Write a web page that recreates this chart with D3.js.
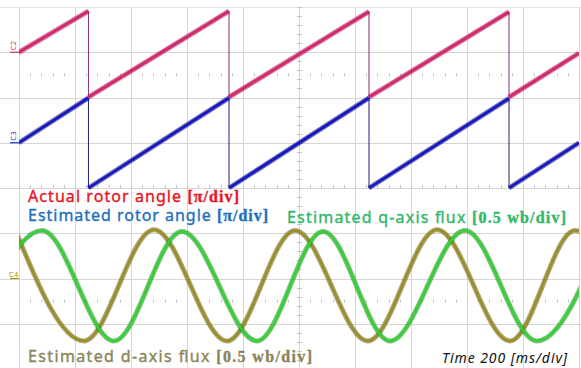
<!DOCTYPE html>
<html>
<head>
<meta charset="utf-8">
<script src="https://cdn.jsdelivr.net/npm/d3@7"></script>
<style>
  body { margin: 0; background: #fff; }
  svg { display: block; }
</style>
</head>
<body>
<script>
// scope settings: 200 ms/div, 10 divisions across, 8 divisions down
const timeTicks = [0, 200, 400, 600, 800, 1000, 1200, 1400, 1600, 1800, 2000];
const divTicks = [0, 1, 2, 3, 4, 5, 6, 7, 8];

// actual rotor angle [pi] (C2, ground at div 7)
const actualT = [0, 248, 248, 750, 750, 1250, 1250, 1750, 1750, 2000];
const actualV = [0.0, 0.91, -0.99, 0.91, -0.99, 0.9, -0.99, 0.89, -0.99, -0.02];

// estimated rotor angle [pi] (C3, ground at div 5)
const estT = [0, 248, 248, 750, 750, 1250, 1250, 1750, 1750, 2000];
const estV = [0.0, 0.99, -1.0, 0.99, -1.0, 0.99, -1.0, 0.98, -1.0, 0.0];

// estimated d-axis flux [wb] (C4, ground at div 2), read at peaks and troughs
const dFluxT = [-14, 232, 482, 743, 986, 1246, 1493, 1754, 1986, 2240];
const dFluxV = [0.54, -0.69, 0.54, -0.69, 0.53, -0.69, 0.54, -0.69, 0.53, -0.69];

// estimated q-axis flux [wb] (C4, ground at div 2)
const qFluxT = [-168, 82, 339, 582, 850, 1086, 1325, 1593, 1850, 2093];
const qFluxV = [-0.69, 0.53, -0.69, 0.52, -0.69, 0.52, -0.69, 0.53, -0.69, 0.52];

const labels = [
  "Actual rotor angle ", "[π/div]",
  "Estimated rotor angle ", "[π/div]",
  "Estimated  q-axis  flux ", "[0.5 wb/div]",
  "Estimated  d-axis  flux ", "[0.5 wb/div]"
];
const timeLabel = "Time 200 [ms/div]";

const W = 581, H = 368;
const svg = d3.select("body").append("svg").attr("width", W).attr("height", H);

const x = d3.scaleLinear().domain([0, 2000]).range([19, 579]);
const y = d3.scaleLinear().domain([0, 8]).range([369, 7]);

svg.append("clipPath").attr("id", "plot")
  .append("rect").attr("x", 19).attr("y", 7).attr("width", 560).attr("height", 362);

// grid
const grid = svg.append("g").attr("stroke", "#d6d6d6").attr("stroke-width", 1);
grid.selectAll(".v").data(timeTicks).enter().append("line")
  .attr("x1", d => Math.round(x(d)) + 0.5).attr("x2", d => Math.round(x(d)) + 0.5)
  .attr("y1", y(8)).attr("y2", H);
grid.selectAll(".h").data(divTicks).enter().append("line")
  .attr("x1", 0).attr("x2", W)
  .attr("y1", d => Math.round(y(d)) + 0.5).attr("y2", d => Math.round(y(d)) + 0.5)
  .attr("stroke", d => d === 8 ? "#e4e4e4" : "#d6d6d6");

// minor ticks: dotted rows, centre column, lower edge of the upper screen
const minor = svg.append("g").attr("stroke", "#c4c4c4").attr("stroke-width", 1);
[6.5, 1.5].forEach(dv => {
  minor.selectAll(null).data(d3.range(0, 2001, 40)).enter().append("line")
    .attr("x1", d => Math.round(x(d)) + 0.5).attr("x2", d => Math.round(x(d)) + 0.5)
    .attr("y1", y(dv) - 1.5).attr("y2", y(dv) + 1.5);
});
minor.selectAll(null).data(d3.range(0, 8.01, 0.2)).enter().append("line")
  .attr("x1", x(1000) - 2).attr("x2", x(1000) + 3)
  .attr("y1", d => Math.round(y(d)) + 0.5).attr("y2", d => Math.round(y(d)) + 0.5);
minor.selectAll(null).data(d3.range(0, 2001, 40)).enter().append("line")
  .attr("x1", d => Math.round(x(d)) + 0.5).attr("x2", d => Math.round(x(d)) + 0.5)
  .attr("y1", y(4) - 3).attr("y2", y(4));

// channel markers
const markers = [
  { name: "C2", div: 7, color: "#d6246e", rot: true },
  { name: "C3", div: 5, color: "#2233cc", rot: true },
  { name: "C4", div: 2, color: "#a99a10", rot: false }
];
markers.forEach(m => {
  svg.append("line").attr("x1", 10).attr("x2", 19)
    .attr("y1", y(m.div)).attr("y2", y(m.div))
    .attr("stroke", m.color).attr("stroke-width", 1.2);
  svg.append("text")
    .attr("transform", m.rot ? `translate(16,${y(m.div) - 2}) rotate(-90)` : `translate(9,${y(m.div) - 2})`)
    .attr("font-family", "DejaVu Sans").attr("font-size", 7).attr("fill", m.color)
    .text(m.name);
});

const plot = svg.append("g").attr("clip-path", "url(#plot)");

function drawTrace(ts, vs, ground, perDiv, band, core, thin, curve) {
  const pts = ts.map((t, i) => [t, ground + vs[i] / perDiv]);
  const line = d3.line().x(d => x(d[0])).y(d => y(d[1])).curve(curve);
  // split at vertical resets so the thick band only follows the ramps
  const pieces = [];
  let cur = [pts[0]];
  for (let i = 1; i < pts.length; i++) {
    if (pts[i][0] === pts[i - 1][0]) { pieces.push(cur); cur = [pts[i]]; }
    else cur.push(pts[i]);
  }
  pieces.push(cur);
  plot.append("path").attr("d", line(pts)).attr("fill", "none")
    .attr("stroke", thin).attr("stroke-width", 1);
  pieces.forEach(p => {
    plot.append("path").attr("d", line(p)).attr("fill", "none")
      .attr("stroke", band).attr("stroke-width", 5).attr("stroke-opacity", 0.55);
    plot.append("path").attr("d", line(p)).attr("fill", "none")
      .attr("stroke", core).attr("stroke-width", 2.6);
  });
}

drawTrace(dFluxT, dFluxV, 2, 0.5, "#6e6512", "#9a8e2a", "#6e6512", d3.curveMonotoneX);
drawTrace(qFluxT, qFluxV, 2, 0.5, "#1c8c1c", "#35d035", "#1c8c1c", d3.curveMonotoneX);
drawTrace(actualT, actualV, 7, 1, "#a8104c", "#d6246e", "#8a2a6a", d3.curveLinear);
drawTrace(estT, estV, 5, 1, "#0a0a70", "#1414c8", "#20207a", d3.curveLinear);

// labels
const font = "'Noto Sans', 'DejaVu Sans', sans-serif";
const serif = "'Liberation Serif', 'DejaVu Serif', serif";
const labelSpec = [
  { x: 28, y: 202, len: 211, color: "#e8141e" },
  { x: 28, y: 221, len: 240, color: "#1e6ec0" },
  { x: 287, y: 223, len: 279, color: "#2fb86a" },
  { x: 28, y: 362, len: 284, color: "#8a8458" }
];
labelSpec.forEach((s, i) => {
  const t = svg.append("text").attr("x", s.x).attr("y", s.y)
    .attr("fill", s.color).attr("font-size", 16)
    .attr("stroke", s.color).attr("stroke-width", 0.35)
    .attr("textLength", s.len).attr("lengthAdjust", "spacing");
  t.append("tspan").attr("font-family", font).text(labels[i * 2]);
  t.append("tspan").attr("font-family", serif).attr("font-weight", "bold").text(labels[i * 2 + 1]);
});

svg.append("text").attr("x", 442).attr("y", 363)
  .attr("font-family", font).attr("font-style", "italic").attr("font-size", 14)
  .attr("fill", "#111").attr("textLength", 125).attr("lengthAdjust", "spacing")
  .text(timeLabel);
</script>
</body>
</html>
